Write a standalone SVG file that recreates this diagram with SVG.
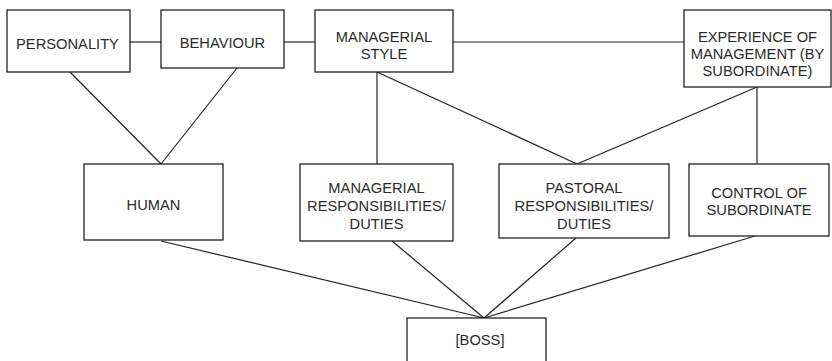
<svg xmlns="http://www.w3.org/2000/svg" width="832" height="361" viewBox="0 0 832 361">
<style>
.box{fill:#fff;stroke:#222;stroke-width:1.3}
.ln{stroke:#222;stroke-width:1.2;fill:none}
text{font-family:"Liberation Sans",Arial,sans-serif;font-size:14.7px;fill:#2a2a2a;text-anchor:middle}
</style>
<rect width="832" height="361" fill="#fff"/>
<g id="connectors">
<line class="ln" x1="130" y1="42" x2="161" y2="42"/>
<line class="ln" x1="284" y1="42" x2="315" y2="42"/>
<line class="ln" x1="453" y1="42" x2="684" y2="42"/>
<line class="ln" x1="70" y1="72" x2="161" y2="164"/>
<line class="ln" x1="237" y1="68" x2="161" y2="164"/>
<line class="ln" x1="377" y1="72" x2="377" y2="164"/>
<line class="ln" x1="377" y1="72" x2="577" y2="164"/>
<line class="ln" x1="757" y1="87" x2="577" y2="164"/>
<line class="ln" x1="757" y1="87" x2="757" y2="164"/>
<line class="ln" x1="161" y1="241" x2="484" y2="318"/>
<line class="ln" x1="392" y1="241" x2="484" y2="318"/>
<line class="ln" x1="576" y1="238" x2="484" y2="318"/>
<line class="ln" x1="755" y1="236" x2="484" y2="318"/>
</g>
<g id="personality"><rect class="box" x="7" y="10" width="123" height="62"/><text x="67.5" y="48.5">PERSONALITY</text></g>
<g id="behaviour"><rect class="box" x="161" y="10" width="123" height="58"/><text x="222.5" y="47.5">BEHAVIOUR</text></g>
<g id="managerial-style"><rect class="box" x="315" y="10" width="138" height="62"/><text x="384" y="41.5">MANAGERIAL</text><text x="384" y="59">STYLE</text></g>
<g id="experience"><rect class="box" x="684" y="10" width="147" height="77"/><text x="757.5" y="42.3">EXPERIENCE OF</text><text x="757.5" y="59">MANAGEMENT (BY</text><text x="757.5" y="76">SUBORDINATE)</text></g>
<g id="human"><rect class="box" x="84" y="164" width="139" height="76"/><text x="153.5" y="210">HUMAN</text></g>
<g id="managerial-resp"><rect class="box" x="300" y="164" width="153" height="77"/><text x="376.5" y="193">MANAGERIAL</text><text x="376.5" y="211">RESPONSIBILITIES/</text><text x="376.5" y="229">DUTIES</text></g>
<g id="pastoral"><rect class="box" x="499" y="164" width="170" height="74"/><text x="584" y="193">PASTORAL</text><text x="584" y="211">RESPONSIBILITIES/</text><text x="584" y="229">DUTIES</text></g>
<g id="control"><rect class="box" x="689" y="164" width="140" height="72"/><text x="759" y="197.5">CONTROL OF</text><text x="759" y="215">SUBORDINATE</text></g>
<g id="boss"><rect class="box" x="407" y="318" width="139" height="60"/><text x="480" y="345">[BOSS]</text></g>
</svg>
